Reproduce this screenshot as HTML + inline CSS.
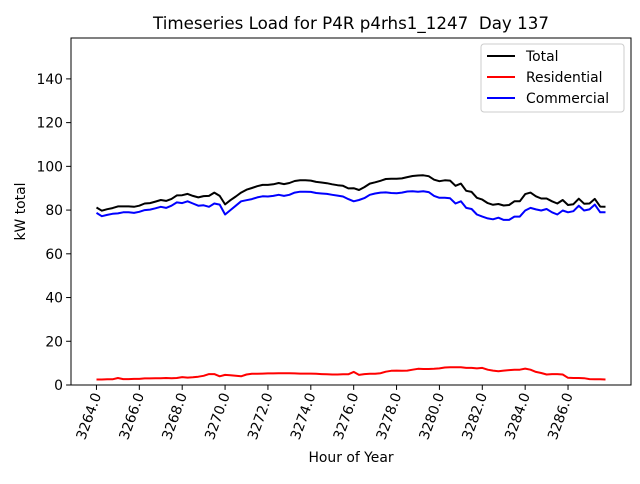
<!DOCTYPE html>
<html><head><meta charset="utf-8"><style>
body{margin:0;background:#fff;font-family:"DejaVu Sans","Liberation Sans",sans-serif;}
svg text{font-family:"DejaVu Sans","Liberation Sans",sans-serif;}
</style></head><body>
<svg id="chart" width="640" height="480" xmlns="http://www.w3.org/2000/svg"></svg>
<script>
const commercial=[78.7,77.2,77.8,78.3,78.5,79,79,78.7,79.2,80,80.2,80.8,81.5,81,82,83.5,83.2,84,83,82,82.2,81.5,83,82.5,78,80,82,84,84.5,85,85.8,86.3,86.2,86.5,87,86.5,87,88,88.4,88.4,88.3,87.8,87.6,87.4,87,86.6,86.2,85,84,84.6,85.5,87,87.6,88,88.1,87.8,87.7,88,88.5,88.6,88.4,88.6,88.2,86.5,85.6,85.6,85.4,83,84,81,80.5,78,77,76.2,75.8,76.5,75.5,75.5,77,77,79.8,81,80.3,79.8,80.5,79,78,79.8,79,79.5,82,79.8,80.3,82.5,79,79];
const residential=[2.5,2.5,2.6,2.6,3.2,2.7,2.7,2.8,2.8,3,3,3.1,3.1,3.2,3.1,3.2,3.6,3.4,3.5,3.8,4.2,5,5,4,4.6,4.5,4.2,4,4.8,5.1,5.1,5.2,5.3,5.3,5.4,5.4,5.4,5.3,5.2,5.2,5.2,5.1,5,4.9,4.8,4.8,4.9,4.9,6,4.6,5,5.1,5.1,5.4,6.1,6.5,6.6,6.5,6.6,7,7.4,7.3,7.3,7.4,7.6,8,8.1,8.1,8.1,7.8,7.8,7.6,7.8,7,6.6,6.3,6.6,6.8,7,7,7.5,7,6,5.5,4.8,5,5,4.8,3.3,3.2,3.2,3.1,2.7,2.6,2.6,2.5];
const startHour=3264, step=0.25;
const xTicks=[3264,3266,3268,3270,3272,3274,3276,3278,3280,3282,3284,3286];
const yTicks=[0,20,40,60,80,100,120,140];

const L=71,R=631,T=38,B=385;
const n=commercial.length;
const xmin=startHour-(n-1)*step*0.05, xmax=startHour+(n-1)*step*1.05;
const ymin=0,ymax=158.7;
const X=v=>L+(v-xmin)/(xmax-xmin)*(R-L);
const Y=v=>B-(v-ymin)/(ymax-ymin)*(B-T);
const svg=document.getElementById('chart');
const NS='http://www.w3.org/2000/svg';
function mk(tag,attrs,txt){const e=document.createElementNS(NS,tag);for(const k in attrs)e.setAttribute(k,attrs[k]);if(txt!=null)e.textContent=txt;svg.appendChild(e);return e;}

const total=commercial.map((c,i)=>c+residential[i]);
function line(arr,color,name){
  const pts=arr.map((v,i)=>X(startHour+i*step).toFixed(1)+','+Y(v).toFixed(1)).join(' ');
  const p=mk('polyline',{points:pts,fill:'none',stroke:color,'stroke-width':2,'stroke-linejoin':'round'});
  
  
}
line(total,'#000','total-line');
line(residential,'#ff0000','residential-line');
line(commercial,'#0000ff','commercial-line');

const frame=mk('rect',{x:L,y:T,width:R-L,height:B-T,fill:'none',stroke:'#000','stroke-width':1});



xTicks.forEach(t=>{
  const x=X(t);
  mk('line',{x1:x,y1:B,x2:x,y2:B+4.9,stroke:'#000'});
  const tx=mk('text',{x:0,y:0,'font-size':13.9,'text-anchor':'end',transform:`translate(${x+5},${B+10}) rotate(-70)`},t.toFixed(1));
  
  
});
yTicks.forEach(t=>{
  const y=Y(t);
  mk('line',{x1:L-4.9,y1:y,x2:L,y2:y,stroke:'#000'});
  const tx=mk('text',{x:L-8,y:y+5,'font-size':13.9,'text-anchor':'end'},t);
  
  
});
const title=mk('text',{x:(L+R)/2,y:29,'font-size':16.7,'text-anchor':'middle'},'Timeseries Load for P4R p4rhs1_1247  Day 137');


title.style.whiteSpace='pre';
const xl=mk('text',{x:(L+R)/2,y:462,'font-size':13.9,'text-anchor':'middle'},'Hour of Year');


const yl=mk('text',{x:0,y:0,'font-size':13.9,'text-anchor':'middle',transform:`translate(25,${(T+B)/2}) rotate(-90)`},'kW total');



const lg=mk('rect',{x:481,y:44,width:143,height:68,rx:3,fill:'#fff','fill-opacity':0.8,stroke:'#ccc'});


[['Total','#000'],['Residential','#ff0000'],['Commercial','#0000ff']].forEach((e,i)=>{
  const y=56+i*21;
  mk('line',{x1:487,y1:y,x2:515,y2:y,stroke:e[1],'stroke-width':2});
  const t=mk('text',{x:526,y:y+5,'font-size':13.9},e[0]);
  
  
});
</script>
</body></html>
